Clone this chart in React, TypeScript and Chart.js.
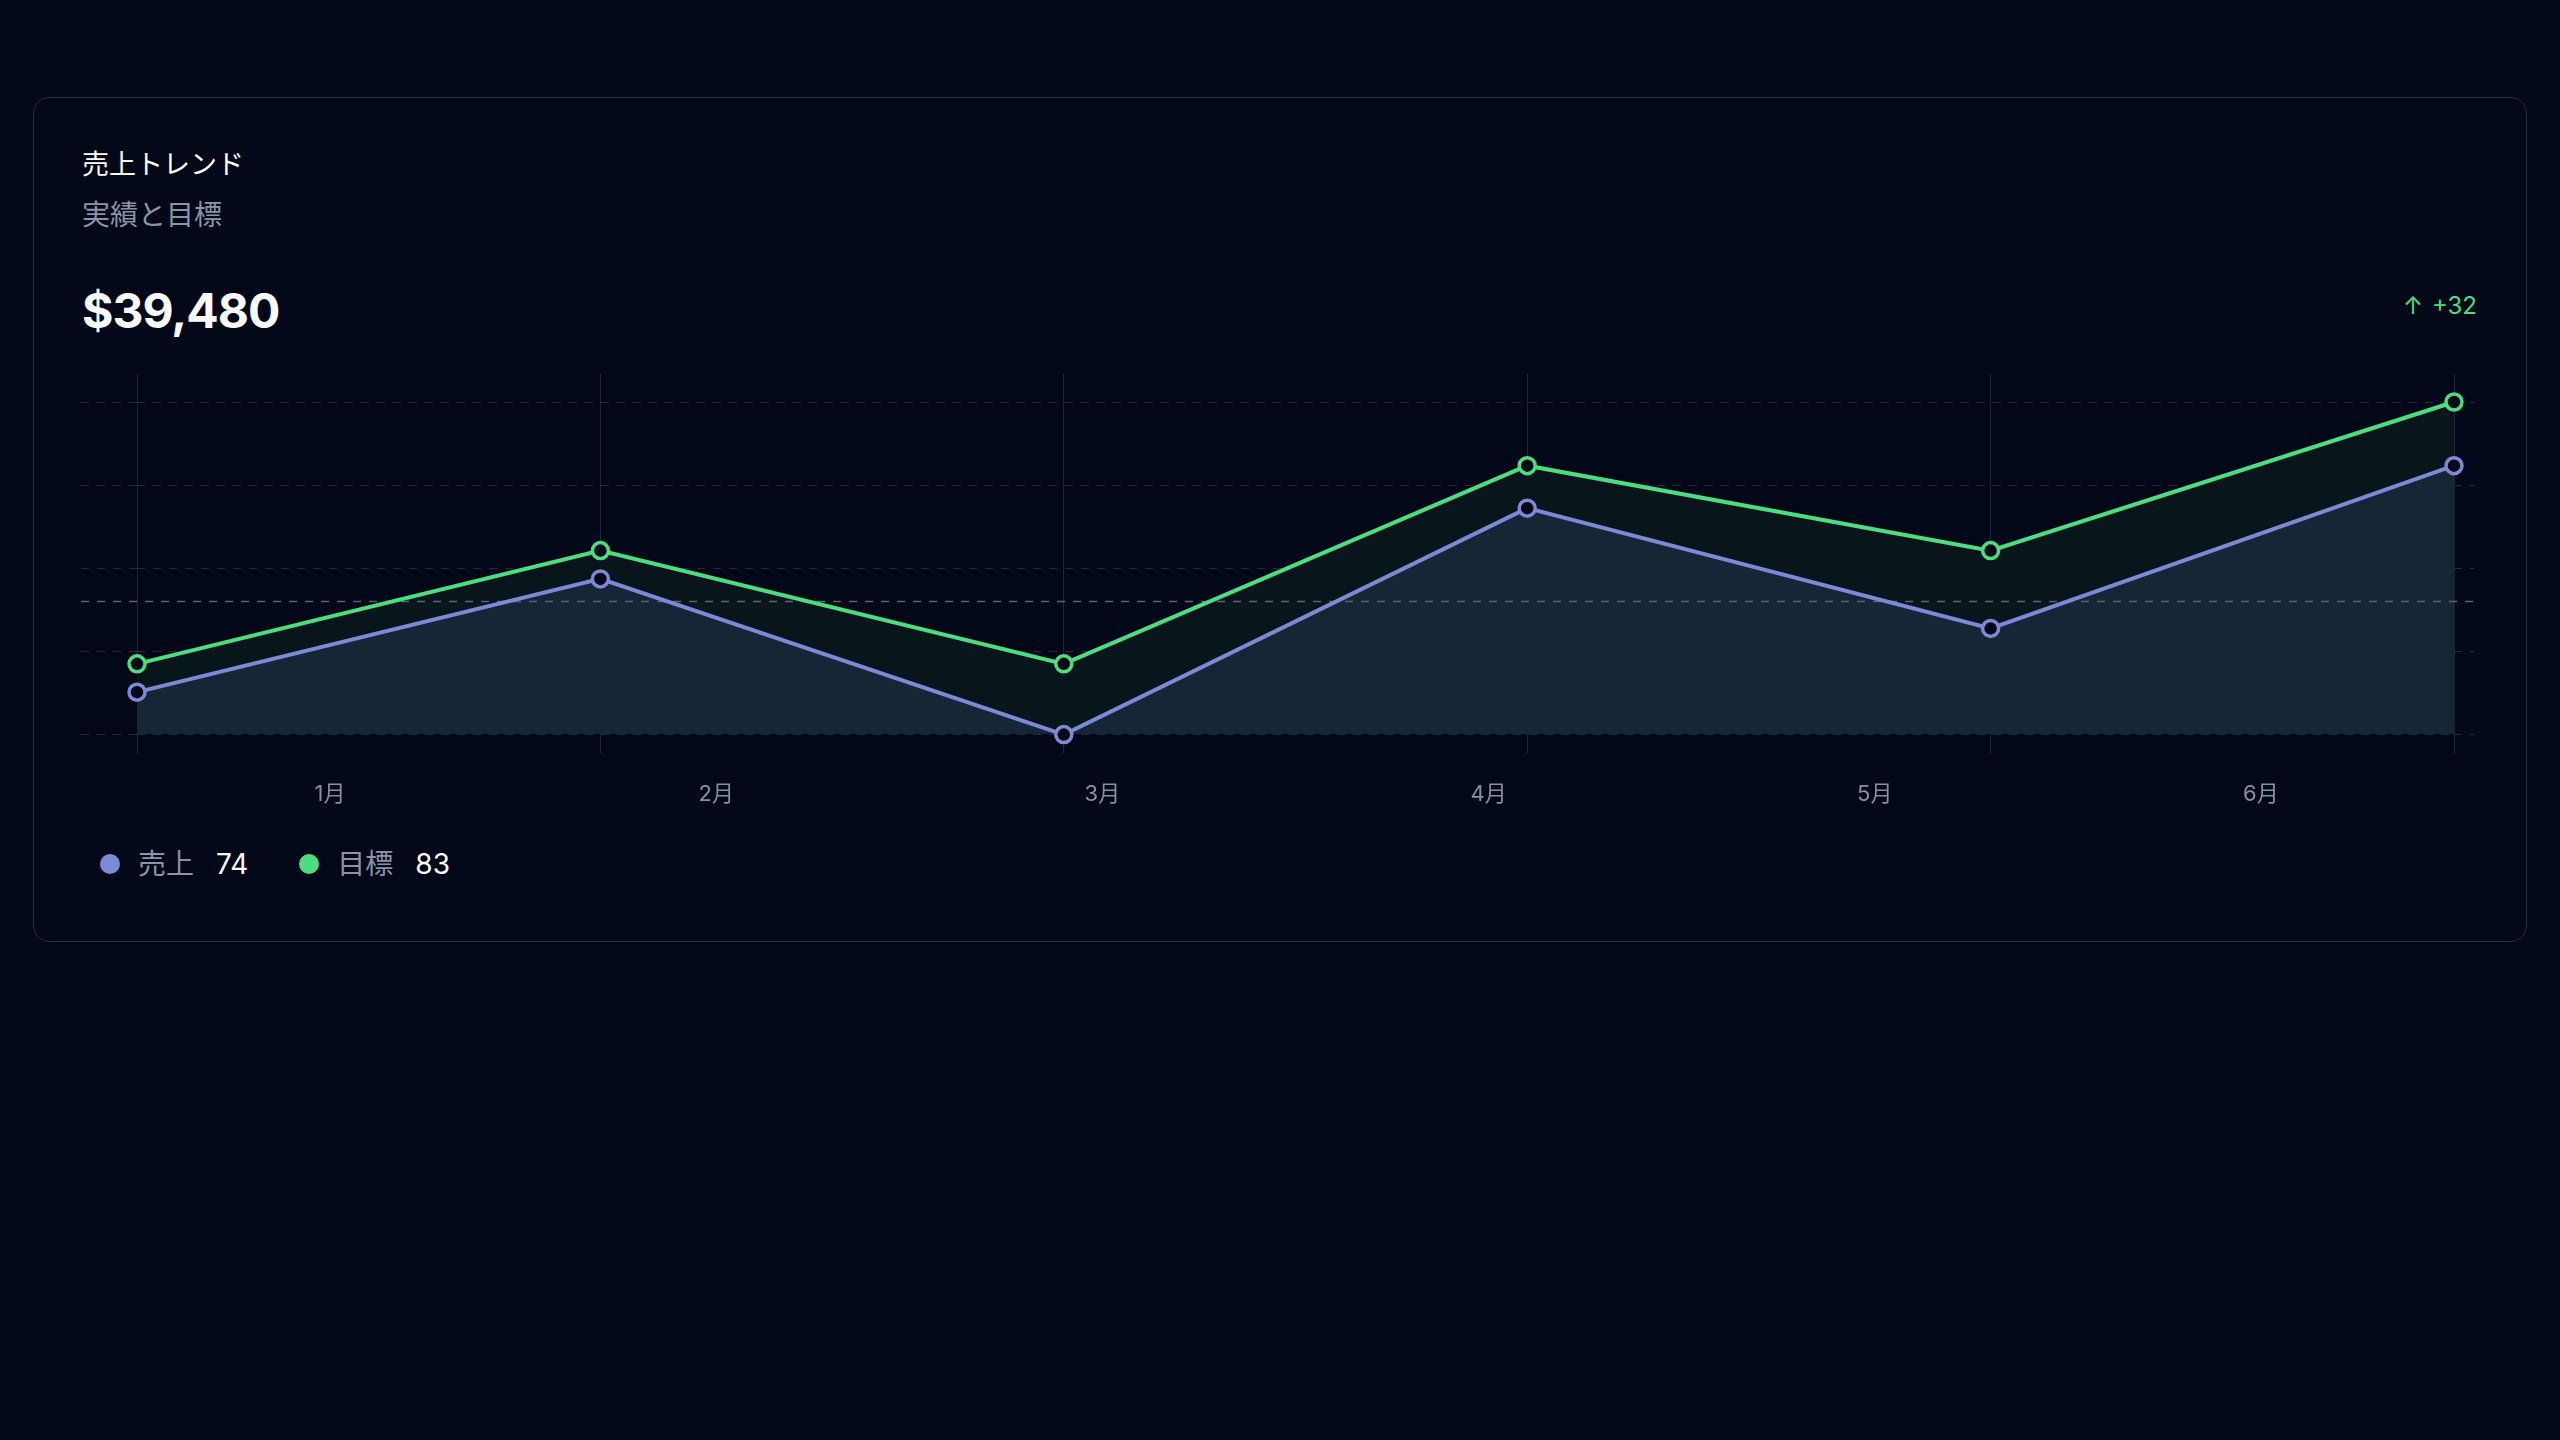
import React, { useEffect, useRef } from "react";
import { Chart, registerables } from "chart.js";

Chart.register(...registerables);

const monthLabels = ["1月", "2月", "3月", "4月", "5月", "6月"];
const salesValues = [42, 58, 36, 68, 51, 74];
const targetValues = [46, 62, 46, 74, 62, 83];
const salesName = "売上";
const targetName = "目標";
const headlineValue = "$39,480";

const BG = "#020817";
const BLUE = "#7c89d4";
const GREEN = "#4ade80";
const BLUE_FILL = "#162636";
const GREEN_FILL = "#08161b";
const GRID_V = "#1c2637";
const GRID_H = "#232c3c";
const MEAN_COLOR = "#5b6272";
const TICK_COLOR = "#8490a4";
const FONT = 'Inter, "Noto Sans CJK JP", sans-serif';

const yMin = Math.min(...salesValues, ...targetValues);
const yMax = Math.max(...salesValues, ...targetValues);
const salesMean = salesValues.reduce((a, b) => a + b, 0) / salesValues.length;
const delta = salesValues[salesValues.length - 1] - salesValues[0];

const meanLinePlugin = {
  id: "meanLine",
  beforeDatasetsDraw(chart: any) {
    const { ctx, chartArea, scales } = chart;
    const y = Math.round(scales.y.getPixelForValue(salesMean)) + 0.5;
    ctx.save();
    ctx.strokeStyle = MEAN_COLOR;
    ctx.lineWidth = 1.5;
    ctx.setLineDash([8, 8]);
    ctx.beginPath();
    ctx.moveTo(chartArea.left - 56, y);
    ctx.lineTo(chartArea.right + 20, y);
    ctx.stroke();
    ctx.restore();
  },
};

function SalesChart() {
  const ref = useRef<HTMLCanvasElement | null>(null);
  useEffect(() => {
    if (!ref.current) return;
    const chart = new Chart(ref.current, {
      type: "line",
      data: {
        labels: monthLabels,
        datasets: [
          {
            label: salesName,
            data: salesValues,
            borderColor: BLUE,
            backgroundColor: BLUE_FILL,
            fill: "start",
            borderWidth: 4,
            tension: 0,
            pointRadius: 8,
            pointBorderWidth: 3.5,
            pointBackgroundColor: BG,
            pointBorderColor: BLUE,
            clip: false,
            xAxisID: "x",
            yAxisID: "y",
          },
          {
            label: targetName,
            data: targetValues,
            borderColor: GREEN,
            backgroundColor: GREEN_FILL,
            fill: "-1",
            borderWidth: 4,
            tension: 0,
            pointRadius: 8,
            pointBorderWidth: 3.5,
            pointBackgroundColor: BG,
            pointBorderColor: GREEN,
            clip: false,
            xAxisID: "x",
            yAxisID: "y",
          },
        ] as any,
      },
      options: {
        animation: false,
        responsive: false,
        maintainAspectRatio: false,
        events: [],
        layout: { padding: 0 },
        plugins: {
          legend: { display: false },
          tooltip: { enabled: false },
          filler: { drawTime: "beforeDatasetsDraw" },
        } as any,
        scales: {
          x: {
            type: "category",
            position: "bottom",
            offset: false,
            weight: 0,
            grid: { color: GRID_V, lineWidth: 1, drawOnChartArea: true, drawTicks: true, tickLength: 19 },
            border: { display: false },
            ticks: { display: false },
          },
          xt: {
            type: "category",
            position: "top",
            offset: false,
            grid: { color: GRID_V, lineWidth: 1, drawOnChartArea: false, drawTicks: true, tickLength: 28 },
            border: { display: false },
            ticks: { display: false },
          },
          xl: {
            type: "category",
            position: "bottom",
            offset: true,
            weight: 1,
            grid: { display: false, drawTicks: false },
            border: { display: false },
            ticks: { color: TICK_COLOR, font: { family: FONT, size: 22 }, padding: 28, maxRotation: 0 },
          },
          y: {
            type: "linear",
            position: "left",
            min: yMin,
            max: yMax,
            ticks: { display: false, count: 5 },
            grid: { color: GRID_H, lineWidth: 1, drawTicks: true, tickLength: 56, tickBorderDash: [8, 8] },
            border: { display: false, dash: [8, 8] },
          },
          y2: {
            type: "linear",
            position: "right",
            min: yMin,
            max: yMax,
            ticks: { display: false, count: 5 },
            grid: { color: GRID_H, lineWidth: 1, drawOnChartArea: false, drawTicks: true, tickLength: 20, tickBorderDash: [8, 8] },
            border: { display: false, dash: [8, 8] },
          },
        } as any,
      },
      plugins: [meanLinePlugin],
    });
    return () => chart.destroy();
  }, []);
  return (
    <canvas
      ref={ref}
      width={2393}
      height={462}
      style={{ position: "absolute", left: 81, top: 374, width: 2393, height: 462 }}
    />
  );
}

export default function App() {
  const text = (extra: React.CSSProperties): React.CSSProperties => ({
    position: "absolute",
    fontFamily: FONT,
    whiteSpace: "nowrap",
    ...extra,
  });
  return (
    <div style={{ position: "fixed", inset: 0, background: BG, overflow: "hidden" }}>
      <div
        style={{
          position: "absolute",
          left: 33,
          top: 97,
          width: 2494,
          height: 845,
          boxSizing: "border-box",
          border: "1.5px solid #252e3e",
          borderRadius: 16,
          background: BG,
        }}
      />
      <div style={text({ left: 82, top: 145, fontSize: 27, lineHeight: "40px", color: "#ffffff", fontWeight: 400 })}>売上トレンド</div>
      <div style={text({ left: 82, top: 195, fontSize: 28, lineHeight: "40px", color: "#8a94a6" })}>実績と目標</div>
      <div style={text({ left: 82, top: 281, fontSize: 48, lineHeight: "60px", fontWeight: 700, letterSpacing: "-1px", color: "#f8fafc" })}>
        {headlineValue}
      </div>
      <div style={text({ right: 83, top: 291, fontSize: 24, lineHeight: "30px", color: GREEN, display: "flex" })}>
        <span style={{ marginRight: 9 }}>↑</span>
        <span>+{delta}</span>
      </div>
      <SalesChart />
      <div style={{ position: "absolute", left: 100, top: 842, display: "flex", alignItems: "center", height: 44, fontFamily: FONT }}>
        {[
          { name: salesName, color: BLUE, value: salesValues[salesValues.length - 1] },
          { name: targetName, color: GREEN, value: targetValues[targetValues.length - 1] },
        ].map((item, i) => (
          <div key={i} style={{ display: "flex", alignItems: "center", marginRight: 51 }}>
            <span style={{ width: 20, height: 20, borderRadius: 10, background: item.color, display: "inline-block" }} />
            <span style={{ marginLeft: 18, fontSize: 28, color: "#8a94a6", lineHeight: "40px" }}>{item.name}</span>
            <span style={{ marginLeft: 22, fontSize: 28, color: "#f8fafc", lineHeight: "40px" }}>{item.value}</span>
          </div>
        ))}
      </div>
    </div>
  );
}
